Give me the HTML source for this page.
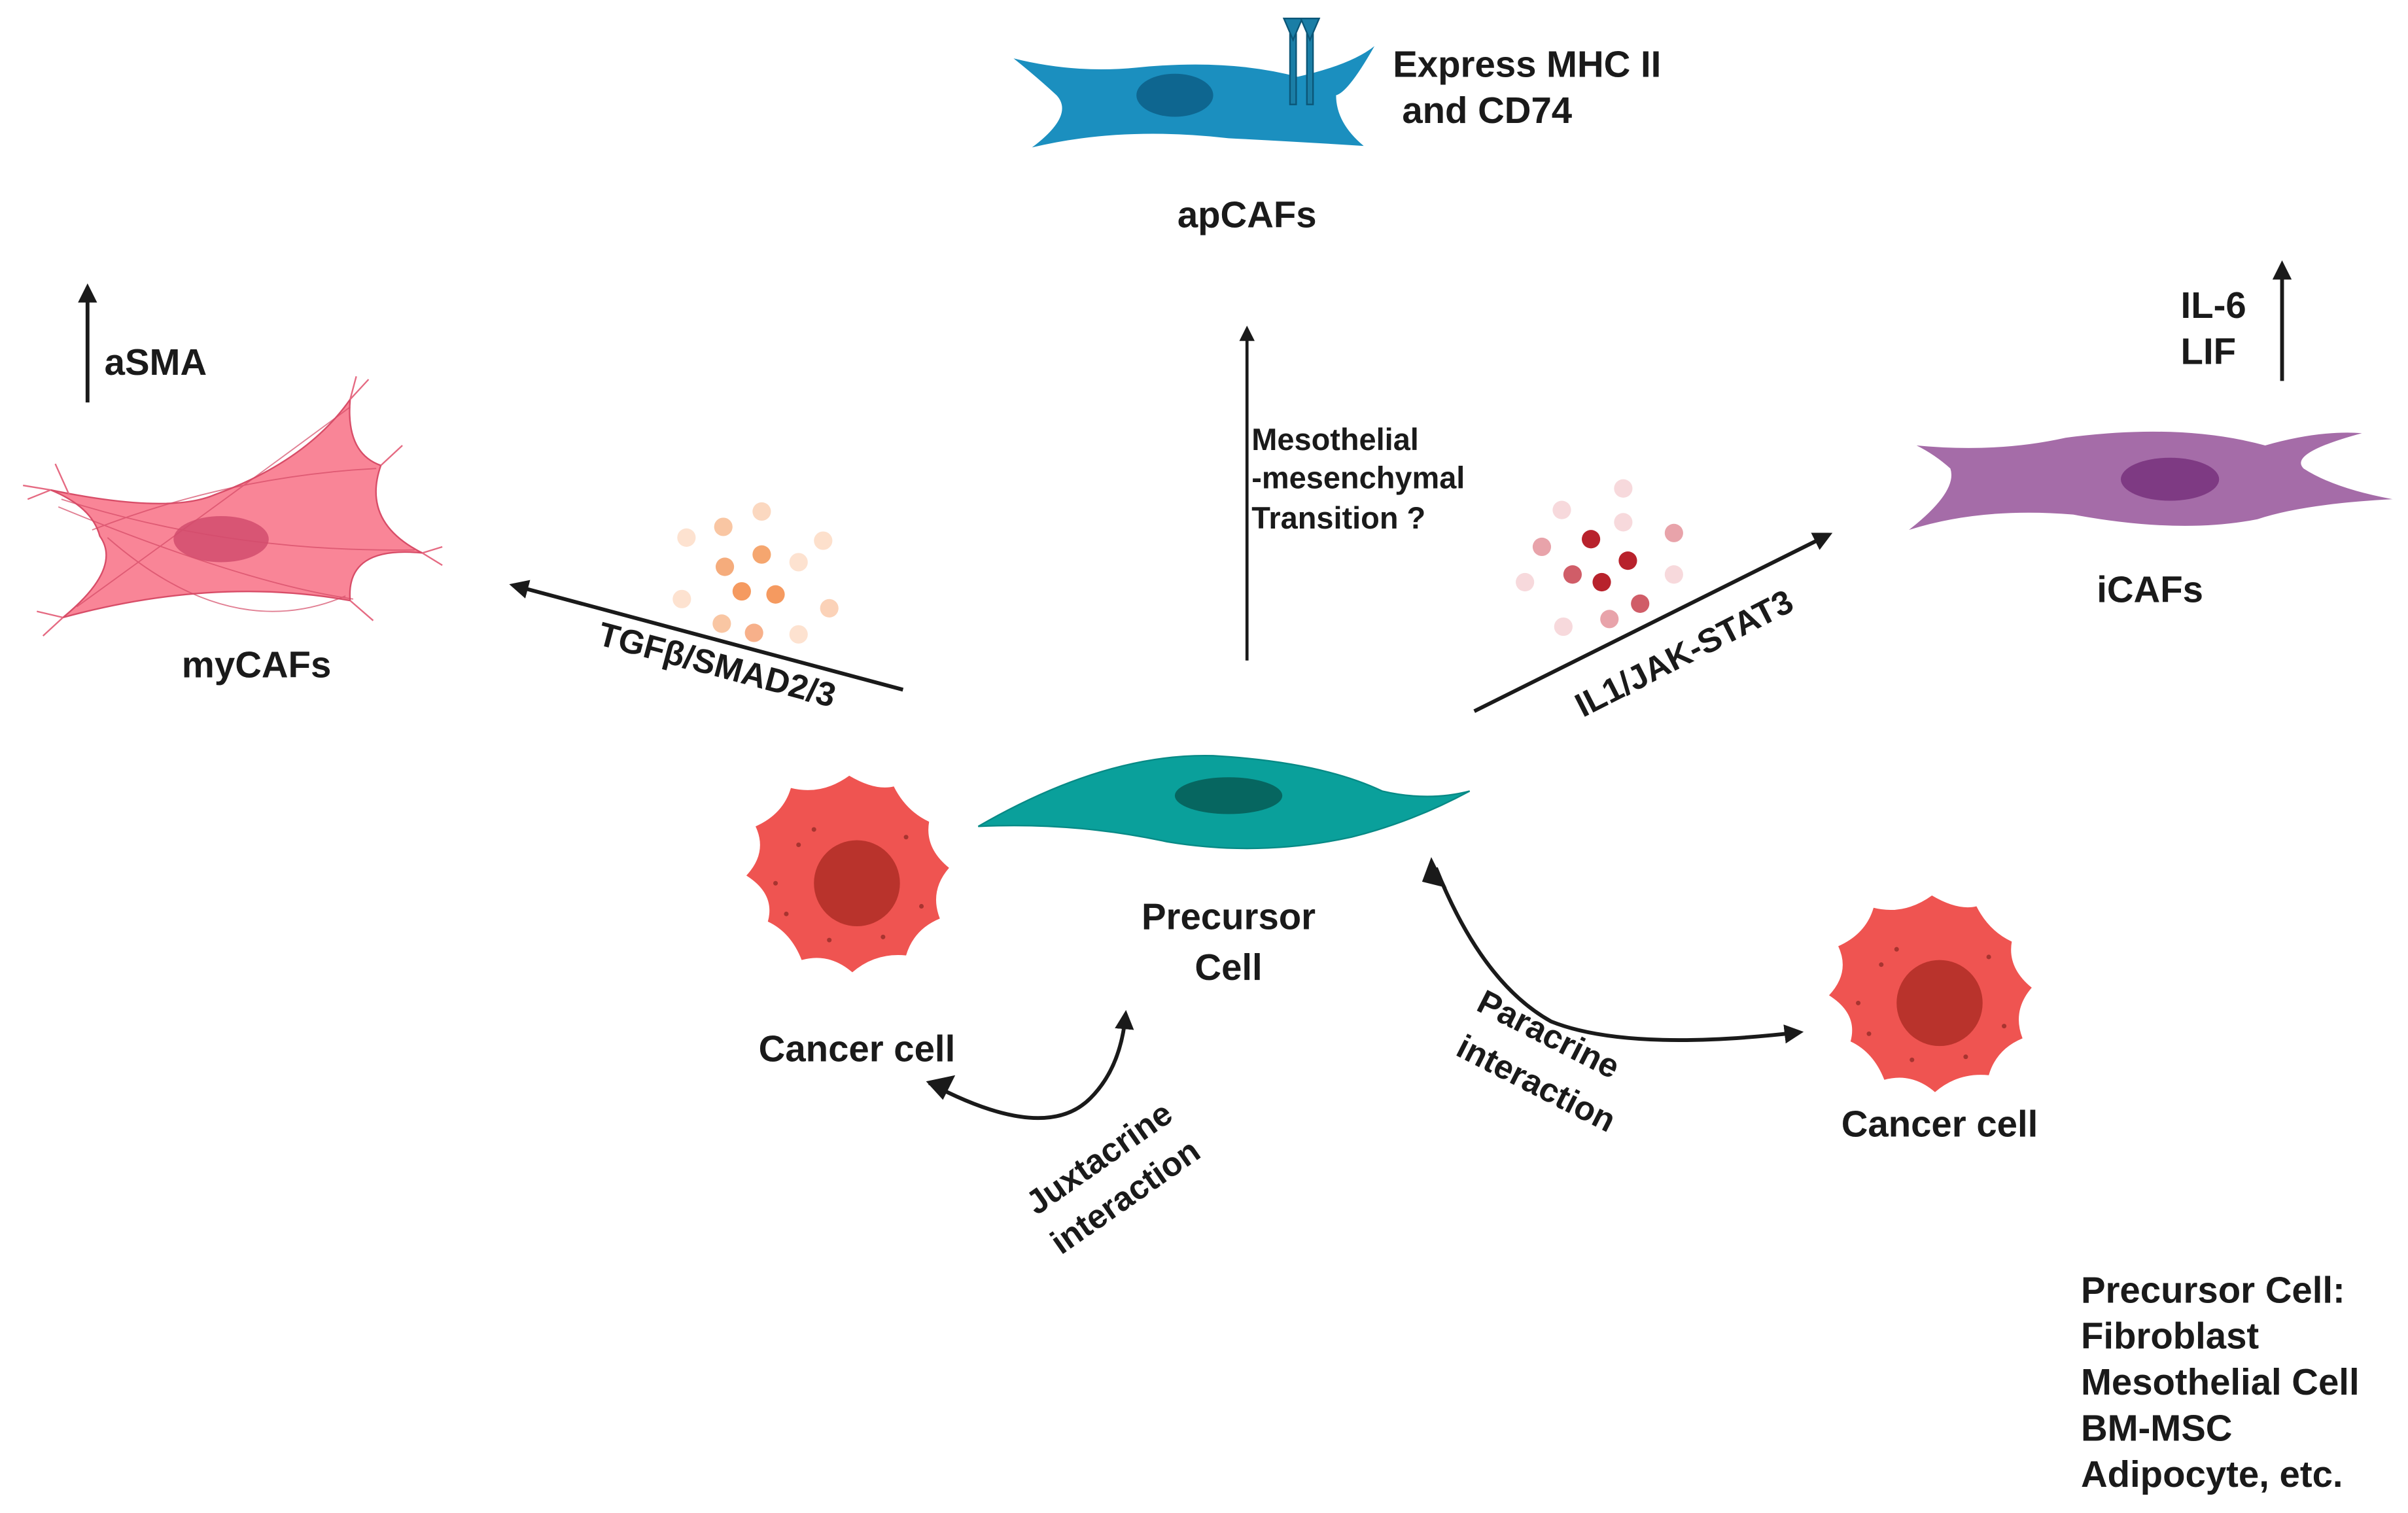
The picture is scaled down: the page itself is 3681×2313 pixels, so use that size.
<!DOCTYPE html>
<html><head><meta charset="utf-8"><style>
html,body{margin:0;padding:0;background:#fff;}
svg{display:block;}
text{font-family:"Liberation Sans",sans-serif;font-weight:bold;fill:#1a1a1a;}
</style></head><body>
<svg width="3681" height="2313" viewBox="0 0 1568 985" preserveAspectRatio="none" xmlns="http://www.w3.org/2000/svg">
<defs>
<marker id="ah" viewBox="0 0 10 10" refX="8" refY="5" markerWidth="5" markerHeight="5" orient="auto"><path d="M0,0 L10,5 L0,10 z" fill="#1a1a1a"/></marker>
</defs>

<!-- apCAF -->
<path d="M660,38 Q700,48 740,44 Q800,38 845,50 Q880,42 895,30 Q878,60 870,62 Q870,80 888,95 Q840,92 800,90 Q730,82 672,96 Q700,75 688,62 Q675,50 660,38 Z" fill="#1b8fbf"/>
<ellipse cx="765" cy="62" rx="25" ry="14" fill="#0e6690"/>
<g fill="#1a7ea6" stroke="#0b5677" stroke-width="1">
<rect x="840" y="22" width="4" height="46"/><rect x="851" y="22" width="4" height="46"/>
<path d="M836,12 L842,26 L848,12 Z"/><path d="M847,12 L853,26 L859,12 Z"/>
</g>
<text x="907" y="50" font-size="24">Express MHC II</text>
<text x="913" y="80" font-size="24">and CD74</text>
<text x="812" y="148" font-size="24" text-anchor="middle">apCAFs</text>

<line x1="812" y1="430" x2="812" y2="214" stroke="#1a1a1a" stroke-width="2" marker-end="url(#ah)"/>
<text x="815" y="293" font-size="20">Mesothelial</text>
<text x="815" y="318" font-size="20">-mesenchymal</text>
<text x="815" y="344" font-size="20">Transition ?</text>

<!-- aSMA -->
<line x1="57" y1="262" x2="57" y2="187" stroke="#1a1a1a" stroke-width="2.5" marker-end="url(#ah)"/>
<text x="68" y="244" font-size="24">aSMA</text>

<!-- myCAF -->
<path d="M33,319 Q110,335 140,322 Q200,300 228,260 Q225,295 248,303 Q235,340 275,360 Q225,355 228,391 Q140,375 41,402 Q80,370 65,349 Q60,330 33,319 Z" fill="#f98597" stroke="#d84d68" stroke-width="1"/>
<g stroke="#d54a66" stroke-width="0.8" fill="none" opacity="0.7">
<path d="M40,325 Q150,360 270,358"/><path d="M60,345 Q150,310 245,305"/><path d="M50,395 Q140,330 228,265"/><path d="M70,350 Q150,420 225,388"/><path d="M38,330 Q160,380 230,390"/>
</g>
<g stroke="#e56a82" stroke-width="1">
<path d="M33,319 L15,316 M33,319 L18,325 M45,322 L36,302 M228,260 L232,245 M228,260 L240,247 M248,303 L262,290 M275,360 L288,368 M275,360 L288,356 M228,391 L243,404 M41,402 L28,414 M41,402 L24,398"/>
</g>
<ellipse cx="144" cy="351" rx="31" ry="15" fill="#d24c6d" opacity="0.85"/>
<text x="167" y="441" font-size="24" text-anchor="middle">myCAFs</text>

<!-- orange dots -->
<g>
<circle cx="471" cy="343" r="6" fill="#f9c6a3"/><circle cx="496" cy="333" r="6" fill="#fbd8c0"/><circle cx="447" cy="350" r="6" fill="#fde2d0"/><circle cx="536" cy="352" r="6" fill="#fde0cc"/>
<circle cx="496" cy="361" r="6" fill="#f5a66f"/><circle cx="472" cy="369" r="6" fill="#f5ac7c"/><circle cx="520" cy="366" r="6" fill="#fde2d0"/>
<circle cx="483" cy="385" r="6" fill="#f59a60"/><circle cx="505" cy="387" r="6" fill="#f59a60"/><circle cx="444" cy="390" r="6" fill="#fde2d0"/><circle cx="540" cy="396" r="6" fill="#fbd2b8"/>
<circle cx="470" cy="406" r="6" fill="#f9c6a3"/><circle cx="491" cy="412" r="6" fill="#f7b08a"/><circle cx="520" cy="413" r="6" fill="#fde2d0"/>
</g>
<line x1="588" y1="449" x2="334" y2="381" stroke="#1a1a1a" stroke-width="2.5" marker-end="url(#ah)"/>
<text x="465" y="440" font-size="22" text-anchor="middle" transform="rotate(15 465 440)">TGFβ/SMAD2/3</text>

<!-- red dots -->
<g>
<circle cx="1017" cy="332" r="6" fill="#f7d9dc"/><circle cx="1057" cy="318" r="6" fill="#f7d9dc"/><circle cx="1057" cy="340" r="6" fill="#f7d9dc"/><circle cx="1004" cy="356" r="6" fill="#e8a3aa"/>
<circle cx="1036" cy="351" r="6" fill="#b8222c"/><circle cx="1090" cy="347" r="6" fill="#e8a3aa"/><circle cx="1060" cy="365" r="6" fill="#b8222c"/>
<circle cx="1024" cy="374" r="6" fill="#d05d68"/><circle cx="1043" cy="379" r="6" fill="#b8222c"/><circle cx="993" cy="379" r="6" fill="#f7d9dc"/><circle cx="1090" cy="374" r="6" fill="#f7d9dc"/>
<circle cx="1068" cy="393" r="6" fill="#d05d68"/><circle cx="1048" cy="403" r="6" fill="#e8a3aa"/><circle cx="1018" cy="408" r="6" fill="#f7d9dc"/>
</g>
<line x1="960" y1="463" x2="1191" y2="348" stroke="#1a1a1a" stroke-width="2.5" marker-end="url(#ah)"/>
<text x="1100" y="432" font-size="22" text-anchor="middle" transform="rotate(-27 1100 432)">IL1/JAK-STAT3</text>

<!-- iCAF -->
<path d="M1248,290 Q1300,295 1345,285 Q1420,275 1475,290 Q1510,280 1538,282 Q1490,295 1500,305 Q1520,318 1558,325 Q1500,328 1470,338 Q1420,348 1350,335 Q1290,330 1243,345 Q1275,320 1270,305 Q1260,296 1248,290 Z" fill="#a56ca8"/>
<ellipse cx="1413" cy="312" rx="32" ry="14" fill="#7e3a83"/>
<text x="1400" y="392" font-size="24" text-anchor="middle">iCAFs</text>
<line x1="1486" y1="248" x2="1486" y2="172" stroke="#1a1a1a" stroke-width="2.5" marker-end="url(#ah)"/>
<text x="1420" y="207" font-size="24">IL-6</text>
<text x="1420" y="237" font-size="24">LIF</text>

<!-- precursor -->
<path d="M637,538 Q720,490 790,492 Q860,496 900,515 Q930,522 957,515 Q920,535 880,545 Q820,558 760,548 Q700,535 637,538 Z" fill="#0aa09b" stroke="#078a86" stroke-width="1"/>
<ellipse cx="800" cy="518" rx="35" ry="12" fill="#066660"/>
<text x="800" y="605" font-size="24" text-anchor="middle">Precursor</text>
<text x="800" y="638" font-size="24" text-anchor="middle">Cell</text>

<!-- cancer cells -->
<g id="cc">
<path d="M553,505 Q570,515 582,512 Q590,528 605,535 Q602,552 618,565 Q605,580 612,598 Q595,605 590,622 Q570,620 555,633 Q540,620 522,625 Q515,607 500,600 Q505,582 486,570 Q500,555 492,538 Q510,530 515,513 Q535,518 553,505 Z" fill="#ef5451"/>
<circle cx="558" cy="575" r="28" fill="#b9332c"/>
<g fill="#a83430"><circle cx="520" cy="550" r="1.5"/><circle cx="530" cy="540" r="1.5"/><circle cx="590" cy="545" r="1.5"/><circle cx="505" cy="575" r="1.5"/><circle cx="600" cy="590" r="1.5"/><circle cx="540" cy="612" r="1.5"/><circle cx="575" cy="610" r="1.5"/><circle cx="512" cy="595" r="1.5"/></g>
</g>
<use href="#cc" transform="translate(705,78)"/>
<text x="558" y="691" font-size="24" text-anchor="middle">Cancer cell</text>
<text x="1263" y="740" font-size="24" text-anchor="middle">Cancer cell</text>

<!-- juxtacrine -->
<path d="M605,705 Q680,745 710,715 Q730,695 733,660" stroke="#1a1a1a" stroke-width="2.5" fill="none" marker-end="url(#ah)"/>
<path d="M603,704 L622,700 L614,716 Z" fill="#1a1a1a"/>
<text x="720" y="760" font-size="22" text-anchor="middle" transform="rotate(-35 720 760)">Juxtacrine</text>
<text x="737" y="785" font-size="22" text-anchor="middle" transform="rotate(-35 737 785)">interaction</text>

<!-- paracrine -->
<path d="M935,565 Q965,640 1010,665 Q1060,685 1172,672" stroke="#1a1a1a" stroke-width="2.5" fill="none" marker-end="url(#ah)"/>
<path d="M932,558 L942,578 L926,574 Z" fill="#1a1a1a"/>
<text x="1005" y="680" font-size="22" text-anchor="middle" transform="rotate(27 1005 680)">Paracrine</text>
<text x="997" y="712" font-size="22" text-anchor="middle" transform="rotate(27 997 712)">interaction</text>

<!-- legend -->
<text x="1355" y="848" font-size="24">Precursor Cell:</text>
<text x="1355" y="878" font-size="24">Fibroblast</text>
<text x="1355" y="908" font-size="24">Mesothelial Cell</text>
<text x="1355" y="938" font-size="24">BM-MSC</text>
<text x="1355" y="968" font-size="24">Adipocyte, etc.</text>
</svg>
</body></html>
